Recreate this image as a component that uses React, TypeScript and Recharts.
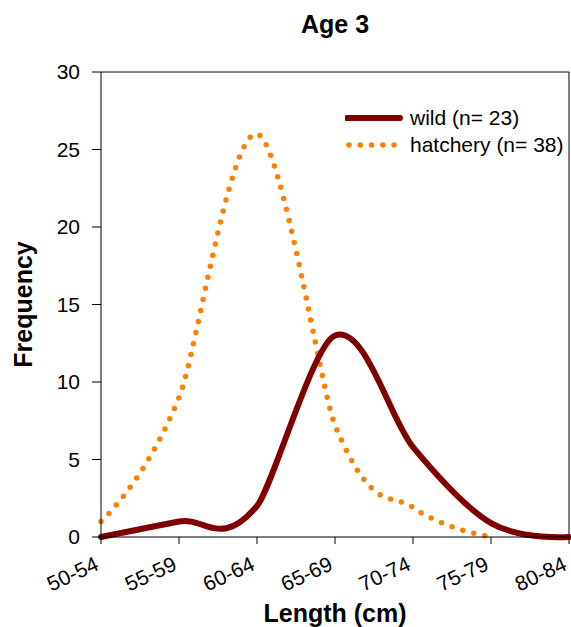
import * as React from "react"
import { LineChart, Line, XAxis, YAxis, ReferenceLine, Legend } from "recharts"

// --- Data ---
const lengthClasses = ["50-54", "55-59", "60-64", "65-69", "70-74", "75-79", "80-84"]
const wildCounts = [0, 1, 2, 13, 5.8, 0.9, 0]
const hatcheryCounts: (number | null)[] = [1, 9, 26, 7.2, 1.9, 0, null]
const yTicks = [0, 5, 10, 15, 20, 25, 30]

const WILD_COLOR = "#800000"
const HATCHERY_COLOR = "#FF8000"
const FONT = "'Liberation Sans', Arial, sans-serif"

const data = lengthClasses.map((name, i) => ({
  name,
  wild: wildCounts[i],
  hatchery: hatcheryCounts[i],
}))

// Excel-like smoothed line: bezier through the points, tangent arms weighted by neighbouring chord lengths
const smoothCurve = (context: any) => {
  let pts: number[][] = []
  const dist = (a: number[], b: number[]) => Math.hypot(b[0] - a[0], b[1] - a[1])
  return {
    areaStart() {},
    areaEnd() {},
    lineStart() {
      pts = []
    },
    point(x: number, y: number) {
      pts.push([+x, +y])
    },
    lineEnd() {
      if (!pts.length) return
      context.moveTo(pts[0][0], pts[0][1])
      for (let i = 0; i < pts.length - 1; i++) {
        const p0 = pts[Math.max(i - 1, 0)]
        const p1 = pts[i]
        const p2 = pts[i + 1]
        const p3 = pts[Math.min(i + 2, pts.length - 1)]
        const d01 = dist(p0, p1)
        const d12 = dist(p1, p2)
        const d23 = dist(p2, p3)
        const w1 = d01 + d12 > 0 ? d01 / (d01 + d12) / 3 : 0
        const w2 = d12 + d23 > 0 ? d23 / (d12 + d23) / 3 : 0
        context.bezierCurveTo(
          p1[0] + (p2[0] - p0[0]) * w1,
          p1[1] + (p2[1] - p0[1]) * w1,
          p2[0] - (p3[0] - p1[0]) * w2,
          p2[1] - (p3[1] - p1[1]) * w2,
          p2[0],
          p2[1]
        )
      }
    },
  }
}

const XTick = (props: any) => {
  const { x, y, payload } = props
  return (
    <g transform={`translate(${x - 1},${y + 23}) rotate(-25)`}>
      <text textAnchor="end" fill="#000" fontSize={21} fontFamily={FONT}>
        {payload.value}
      </text>
    </g>
  )
}

const LegendBox = () => (
  <div style={{ fontFamily: FONT, fontSize: 21, color: "#000", lineHeight: 1 }}>
    <div style={{ display: "flex", alignItems: "center", height: 27 }}>
      <svg width={65} height={10}>
        <line x1={2} y1={5} x2={55} y2={5} stroke={WILD_COLOR} strokeWidth={6} strokeLinecap="round" />
      </svg>
      <span>wild (n= 23)</span>
    </div>
    <div style={{ display: "flex", alignItems: "center", height: 27 }}>
      <svg width={65} height={10}>
        <line x1={4} y1={5} x2={50} y2={5} stroke={HATCHERY_COLOR} strokeWidth={5.5} strokeLinecap="round" strokeDasharray="0 11.25" />
      </svg>
      <span>hatchery (n= 38)</span>
    </div>
  </div>
)

export default function App() {
  return (
    <div style={{ position: "absolute", left: 0, top: 0, width: 571, height: 627, background: "#fff" }}>
      <div
        style={{
          position: "absolute",
          left: 101,
          top: 10,
          width: 468,
          textAlign: "center",
          fontFamily: FONT,
          fontWeight: "bold",
          fontSize: 25,
          lineHeight: "28px",
        }}
      >
        Age 3
      </div>
      <LineChart width={571} height={627} data={data} margin={{ top: 72, right: 2, left: 0, bottom: 0 }}>
        <XAxis
          dataKey="name"
          height={90}
          tickSize={7}
          tickMargin={2}
          interval={0}
          stroke="#000"
          tick={<XTick />}
          label={{
            content: (p: any) => {
              const vb = p.viewBox
              return (
                <text x={vb.x + vb.width / 2} y={622} textAnchor="middle" fontFamily={FONT} fontWeight="bold" fontSize={25} fill="#000">
                  Length (cm)
                </text>
              )
            },
          }}
        />
        <YAxis
          width={101}
          domain={[0, 30]}
          ticks={yTicks}
          tickSize={9}
          tickMargin={12}
          stroke="#000"
          tick={{ fill: "#000", fontSize: 21, fontFamily: FONT }}
          label={{
            content: (p: any) => {
              const vb = p.viewBox
              const cy = vb.y + vb.height / 2
              return (
                <text x={32} y={cy} transform={`rotate(-90 32 ${cy})`} textAnchor="middle" fontFamily={FONT} fontWeight="bold" fontSize={25} fill="#000">
                  Frequency
                </text>
              )
            },
          }}
        />
        <ReferenceLine y={30} stroke="#000" />
        <ReferenceLine x="80-84" stroke="#000" />
        <Legend
          layout="vertical"
          align="center"
          verticalAlign="middle"
          content={<LegendBox />}
          wrapperStyle={{ position: "absolute", left: 345, top: 104, width: 230 }}
        />
        <Line
          dataKey="hatchery"
          type={smoothCurve as any}
          stroke={HATCHERY_COLOR}
          strokeWidth={5.5}
          strokeLinecap="round"
          strokeDasharray="0 11.3"
          dot={false}
          activeDot={false}
          isAnimationActive={false}
        />
        <Line
          dataKey="wild"
          type={smoothCurve as any}
          stroke={WILD_COLOR}
          strokeWidth={6}
          strokeLinecap="round"
          dot={false}
          activeDot={false}
          isAnimationActive={false}
        />
      </LineChart>
    </div>
  )
}
